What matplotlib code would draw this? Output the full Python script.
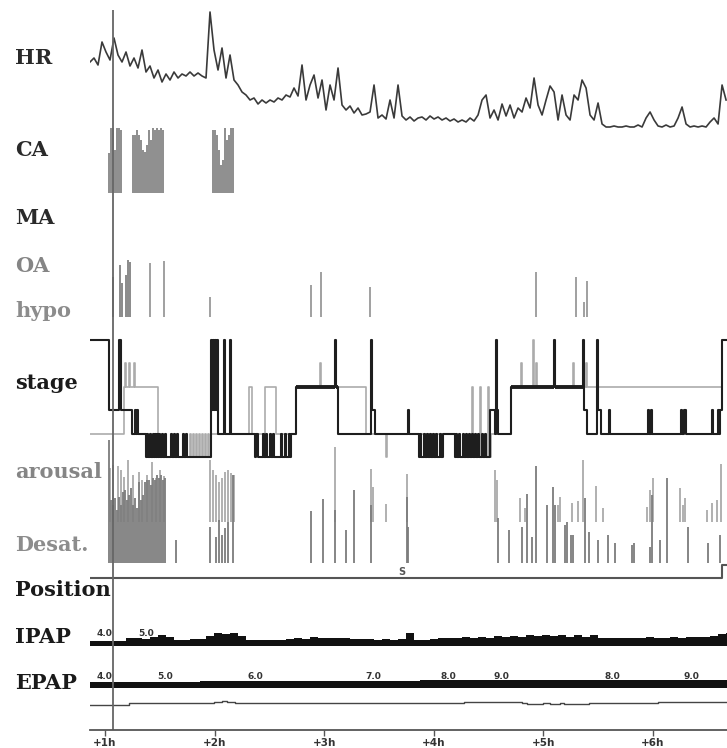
import numpy as np
import matplotlib
matplotlib.use("Agg")
from matplotlib import pyplot as plt

# ---------------- data ----------------
# heart rate (bpm), one sample every 0.0365 h from 0.863 h
hr_start, hr_step = 0.863, 0.0365
hr = [84, 86, 82.5, 94, 89, 85, 96, 87.5, 84, 89,
      82, 86, 81, 90, 79, 82, 76, 80, 74, 78,
      75, 79, 76, 78, 77, 79, 77, 78.5, 77, 76,
      109, 90, 80, 91, 76, 87.5, 75, 72.5, 69, 67.5,
      65, 66, 63, 65, 63.5, 65, 64, 66, 65, 67.5,
      66.5, 71, 67, 82.5, 65, 72.5, 77.5, 66, 75, 60,
      72.5, 65, 81, 62.5, 60, 62, 58.5, 61, 57.5, 58,
      59, 72.5, 56, 57.5, 55.5, 65, 56, 72.5, 57, 55,
      56.5, 54.5, 56, 56.5, 55, 57, 55.5, 56.5, 55, 56,
      54.5, 55.5, 54, 55, 54, 56, 54.5, 57.5, 65, 67.5,
      56, 60, 55, 63, 57, 62.5, 56, 61, 59, 66,
      61, 76, 62.5, 57.5, 65, 72, 69, 55, 67.5, 57.5,
      55, 67.5, 65, 75, 71, 57.5, 55, 63.5, 53, 51.5,
      51.5, 52, 51.5, 51.5, 52, 51.5, 51.5, 52.5, 51.5, 56,
      59, 55, 52, 51.5, 52.5, 51.5, 52, 56, 61.5, 53,
      51.5, 52, 51.5, 52, 51.5, 54, 56, 53, 72.5, 65]

# central apneas: time (h), duration (s)
ca_t = [1.037, 1.055, 1.073, 1.091, 1.110, 1.128, 1.146,
        1.255, 1.273, 1.292, 1.310, 1.328, 1.346, 1.365, 1.383, 1.401, 1.419,
        1.438, 1.456, 1.474, 1.493, 1.511, 1.529,
        1.985, 2.003, 2.022, 2.040, 2.058, 2.076, 2.095, 2.113, 2.131, 2.149, 2.168]
ca_d = [18.2, 29.5, 29.5, 19.5, 29.5, 29.5, 28.6,
        26.4, 26.4, 28.6, 26.4, 24.1, 19.5, 18.6, 21.8, 28.6, 24.1,
        29.5, 28.6, 29.5, 28.6, 29.5, 28.6,
        28.6, 28.6, 26.4, 19.5, 12.7, 15.0, 29.5, 24.1, 26.4, 29.5, 29.5]

# obstructive apneas and hypopneas: time (h), duration (s)
oa_t = [1.073, 1.137, 1.155, 1.192, 1.210, 1.228]
oa_d = [40, 52, 34, 42, 57, 55]
hypo_t = [1.410, 1.538, 1.958, 2.880, 2.971, 3.418, 4.932, 5.297, 5.370, 5.398]
hypo_d = [54, 56, 20, 32, 45, 30, 45, 40, 15, 36]

# sleep stages
stage_level = {"N3": 0, "N2": 1, "N1": 2, "R": 3, "MT": 4, "W": 5}
hyp_t = [0.863, 1.037, 1.128, 1.146, 1.246, 1.273, 1.283, 1.292, 1.301,
         1.374, 1.383, 1.392, 1.410, 1.419, 1.438, 1.447, 1.456, 1.465, 1.474,
         1.483, 1.493, 1.502, 1.520, 1.529, 1.547, 1.556, 1.602, 1.611, 1.629,
         1.638, 1.657, 1.666, 1.711, 1.720, 1.739, 1.748,
         1.967, 1.976, 1.985, 1.994, 2.003, 2.012, 2.022, 2.031, 2.085, 2.095,
         2.140, 2.149, 2.369, 2.378, 2.396, 2.442, 2.451, 2.469, 2.478, 2.505,
         2.514, 2.533, 2.542, 2.606, 2.615, 2.642, 2.651, 2.679, 2.688, 2.697,
         2.743, 3.099, 3.108, 3.126, 3.427, 3.436, 3.464, 3.765, 3.774,
         3.865, 3.874, 3.883, 3.911, 3.920, 3.938, 3.947, 3.965, 3.974, 3.993,
         4.002, 4.020, 4.029, 4.057, 4.066, 4.084,
         4.193, 4.203, 4.212, 4.230, 4.239, 4.266, 4.276, 4.294, 4.303, 4.321,
         4.330, 4.349, 4.358, 4.376, 4.385, 4.403, 4.412, 4.440, 4.449, 4.467,
         4.476, 4.513, 4.558, 4.567, 4.577, 4.586, 4.704, 5.097, 5.106,
         5.361, 5.370, 5.398, 5.489, 5.498, 5.526, 5.599, 5.608, 5.954, 5.964,
         5.982, 5.991, 6.256, 6.265, 6.283, 6.301, 6.539, 6.548, 6.593, 6.602,
         6.611, 6.630, 6.675]
hyp_s = ["W", "N1", "W", "N1", "N2", "N1", "N2", "N1", "N2",
         "N3", "N2", "N3", "N2", "N3", "N2", "N3", "N2", "N3", "N2",
         "N3", "N2", "N3", "N2", "N3", "N2", "N3", "N2", "N3", "N2",
         "N3", "N2", "N3", "N2", "N3", "N2", "N3",
         "W", "N1", "W", "N1", "W", "N1", "W", "N2", "W", "N2",
         "W", "N2", "N3", "N2", "N3", "N2", "N3", "N2", "N3", "N2",
         "N3", "N2", "N3", "N2", "N3", "N2", "N3", "N2", "N3", "N2",
         "R", "W", "R", "N2", "W", "N1", "N2", "N1", "N2",
         "N3", "N2", "N3", "N2", "N3", "N2", "N3", "N2", "N3", "N2",
         "N3", "N2", "N3", "N2", "N3", "N2",
         "N3", "N2", "N3", "N2", "N3", "N2", "N3", "N2", "N3", "N2",
         "N3", "N2", "N3", "N2", "N3", "N2", "N3", "N2", "N3", "N2",
         "N3", "N1", "N2", "W", "N1", "N2", "R", "W", "R",
         "W", "N1", "N2", "W", "N1", "N2", "N1", "N2", "N1", "N2",
         "N1", "N2", "N1", "N2", "N1", "N2", "N1", "N2", "N1", "N2",
         "N1", "W", "W"]

# second (grey) scoring of the stages
hyp2_t = [0.863, 1.174, 1.183, 1.192, 1.219, 1.228, 1.265, 1.273, 1.483, 1.502,
          1.775, 1.784, 1.803, 1.812, 1.830, 1.839, 1.858, 1.867, 1.885, 1.894,
          1.912, 1.922, 1.940, 1.949, 1.967, 2.314, 2.342, 2.460, 2.560, 2.743,
          2.962, 2.971, 3.381, 3.564, 3.573, 4.193, 4.349, 4.358, 4.421, 4.430,
          4.494, 4.503, 4.522, 4.704, 4.795, 4.805, 4.905, 4.914, 4.932, 4.941,
          5.270, 5.279, 5.389, 5.398, 6.630, 6.675]
hyp2_s = ["N2", "R", "MT", "R", "MT", "R", "MT", "R", "N2", "N3",
          "N2", "N3", "N2", "N3", "N2", "N3", "N2", "N3", "N2", "N3",
          "N2", "N3", "N2", "N3", "N2", "R", "N2", "R", "N2", "R",
          "MT", "R", "N2", "N3", "N2", "N3", "R", "N3", "R", "N3",
          "R", "N3", "N2", "R", "MT", "R", "W", "R", "MT", "R",
          "MT", "R", "MT", "R", "W", "W"]

# arousals: time (h), duration (s)
ar_t = [1.046, 1.073, 1.119, 1.146, 1.174, 1.210, 1.255, 1.310, 1.337, 1.383,
        1.429, 1.465, 1.502, 1.538, 1.958, 1.985, 2.012, 2.040, 2.067, 2.095,
        2.122, 2.149, 2.177, 3.099, 3.427, 3.446, 3.564, 3.756, 4.558, 4.577,
        4.786, 4.832, 5.133, 5.151, 5.261, 5.316, 5.361, 5.480, 5.544, 5.945,
        5.973, 6.000, 6.246, 6.274, 6.292, 6.493, 6.539, 6.584, 6.620]
ar_d = [27, 28.5, 28, 26, 22.5, 31, 23.5, 25, 21, 23.5,
        30, 22, 26, 23, 31, 26, 23.5, 20, 22, 25,
        26, 24.5, 23.5, 37.5, 26.5, 17.5, 9, 24, 26, 21,
        12, 7, 8.5, 12.5, 9.5, 10.5, 31, 18, 7, 7.5,
        16, 22, 17, 8.5, 12, 6, 9.5, 11, 29]

# desaturations: time (h), drop (%)
ds_t = [1.037, 1.055, 1.073, 1.091, 1.110, 1.128, 1.146, 1.164, 1.183, 1.201,
        1.219, 1.237, 1.255, 1.273, 1.292, 1.310, 1.328, 1.346, 1.365, 1.383,
        1.401, 1.419, 1.438, 1.456, 1.474, 1.493, 1.511, 1.529, 1.547, 1.648,
        1.958, 2.012, 2.040, 2.067, 2.095, 2.122, 2.168, 2.880, 2.989, 3.099,
        3.199, 3.272, 3.427, 3.756, 3.765, 4.586, 4.686, 4.805, 4.850, 4.896,
        4.932, 5.033, 5.088, 5.106, 5.197, 5.215, 5.252, 5.270, 5.380, 5.416,
        5.498, 5.590, 5.653, 5.808, 5.827, 5.973, 5.991, 6.064, 6.128, 6.319,
        6.502, 6.611]
ds_d = [24.6, 12.6, 11.6, 13, 10.6, 13.2, 11.6, 14.2, 14.6, 12.6,
        13.6, 15, 11.6, 13, 11, 16.2, 12.6, 13.6, 16.2, 16.6,
        16.6, 15.6, 17, 16.6, 17.6, 17, 17.6, 16.6, 17, 4.6,
        7.2, 5.2, 8.6, 5.6, 7, 8.2, 17.6, 10.4, 12.8, 10.6,
        6.6, 14.6, 11.6, 13.2, 7.2, 9, 6.6, 7.2, 13.8, 5.2,
        19.4, 11.6, 15.2, 11.6, 7.6, 8.2, 5.6, 5.6, 13, 6.2,
        4.6, 5.6, 4, 3.6, 4, 3.2, 13.6, 4.6, 17, 7.2,
        4, 5.6]

# body position
pos_level = {"S": 0, "L": 1}
pos_t = [0.863, 6.630, 6.675]
pos_s = ["S", "L", "L"]

# IPAP (cmH2O), one sample every 0.073 h from 0.863 h
ip_start, ip_step = 0.863, 0.073
ipap = [4.1, 4.1, 4.1, 4.1, 4.1, 4.8, 4.8, 4.6, 5.0, 5.4,
        5.0, 4.3, 4.3, 4.6, 4.6, 5.2, 5.9, 5.7, 5.9, 5.2,
        4.3, 4.3, 4.3, 4.3, 4.3, 4.6, 4.8, 4.6, 5.0, 4.8,
        4.8, 4.8, 4.8, 4.6, 4.6, 4.6, 4.3, 4.6, 4.3, 4.6,
        5.9, 4.3, 4.3, 4.6, 4.8, 4.8, 4.8, 5.0, 4.8, 5.0,
        4.8, 5.2, 5.0, 5.2, 5.0, 5.4, 5.2, 5.4, 5.2, 5.4,
        5.0, 5.4, 5.0, 5.4, 4.8, 4.8, 4.8, 4.8, 4.8, 4.8,
        5.0, 4.8, 4.8, 5.0, 4.8, 5.0, 5.0, 5.0, 5.2, 5.7, 5.9]
ipap_lab_t = [0.991, 1.374]
ipap_lab = ["4.0", "5.0"]

# EPAP (cmH2O)
epap_t = [0.863, 1.219, 1.283, 1.867, 2.962, 3.874, 4.276, 4.969, 5.151, 5.288, 6.046, 6.675]
epap = [4.0, 5.2, 4.4, 5.6, 6.8, 7.2, 8.8, 7.6, 8.4, 7.6, 8.8, 8.8]
epap_lab_t = [0.991, 1.548, 2.369, 3.446, 4.130, 4.613, 5.626, 6.347]
epap_lab = ["4.0", "5.0", "6.0", "7.0", "8.0", "9.0", "8.0", "9.0"]

# leak (L/min)
leak_t = [0.863, 1.219, 1.958, 1.994, 2.031, 2.067, 2.113, 2.149, 2.186, 2.907,
          4.276, 4.805, 4.850, 4.905, 4.950, 5.000, 5.060, 5.115, 5.151, 5.190,
          5.240, 5.300, 5.350, 5.420, 5.480, 5.526, 6.046, 6.675]
leak = [0, 4, 5, 7, 6, 8, 6, 7, 4, 5,
        6.6, 4, 2, 3, 2, 4, 2, 3, 5, 3,
        2, 3, 2, 4, 3.5, 4, 6.6, 6.6]

cursor_t = 1.073
hour_ticks = [1, 2, 3, 4, 5, 6]

labels = [("HR", 58, "#2a2a2a"), ("CA", 150, "#2a2a2a"), ("MA", 218, "#2a2a2a"),
          ("OA", 266, "#858585"), ("hypo", 311, "#8c8c8c"), ("stage", 383, "#1a1a1a"),
          ("arousal", 472, "#858585"), ("Desat.", 545, "#8c8c8c"),
          ("Position", 590, "#1a1a1a"), ("IPAP", 637, "#1a1a1a"), ("EPAP", 683, "#1a1a1a")]

# ---------------- layout ----------------
W, H = 727, 748
X0, X1 = 90, 727
XLIM = (0.863, 6.675)

fig = plt.figure(figsize=(W / 100, H / 100), dpi=100)


def track(top, bottom, ylim):
    ax = fig.add_axes([X0 / W, 1 - bottom / H, (X1 - X0) / W, (bottom - top) / H])
    ax.set_xlim(XLIM)
    ax.set_ylim(ylim)
    ax.axis("off")
    ax.patch.set_alpha(0)
    return ax


# HR
ax = track(10, 130, (50, 110))
hr_t = hr_start + np.arange(len(hr)) * hr_step
ax.plot(hr_t, hr, color="#3a3a3a", lw=1.2)

# CA
ax = track(127, 193, (0, 30))
ax.vlines(ca_t, 0, ca_d, color="#7a7a7a", lw=1.2)

# OA / hypo
ax = track(255, 317, (0, 62))
ax.vlines(oa_t, 0, oa_d, color="#8a8a8a", lw=1.4)
ax.vlines(hypo_t, 0, hypo_d, color="#a0a0a0", lw=1.4)

# stage
ax = track(330, 465, (-0.34, 5.43))
lv2 = [stage_level[s] for s in hyp2_s]
ax.step(hyp2_t, lv2, where="post", color="#ababab", lw=1.2)
lv = [stage_level[s] for s in hyp_s]
ax.step(hyp_t, lv, where="post", color="#1e1e1e", lw=1.5)
for i in range(len(hyp_s) - 1):
    if hyp_s[i] == "R":
        ax.hlines(stage_level["R"], hyp_t[i], hyp_t[i + 1], color="#1e1e1e", lw=2.8)

# arousal / desaturation
ax = track(430, 522, (0, 46))
ax.vlines(ar_t, 0, ar_d, color="#b0b0b0", lw=1.4)
ax = track(430, 563, (0, 26.6))
ax.vlines(ds_t, 0, ds_d, color="#7c7c7c", lw=1.3)

# position
ax = track(560, 585, (-0.54, 1.385))
ax.step(pos_t, [pos_level[s] for s in pos_s], where="post", color="#555555", lw=1.5)
ax.text(3.710, 0.45, "S", fontsize=7, fontweight="bold", color="#555555",
        ha="center", va="center")

# IPAP
ax = track(620, 650, (2.11, 8.78))
ip_t = ip_start + np.arange(len(ipap)) * ip_step
ax.fill_between(ip_t, 3.0, ipap, step="mid", color="#111111", lw=0)
for t, s in zip(ipap_lab_t, ipap_lab):
    ax.text(t, 5.8, s, fontsize=6.5, fontweight="bold", color="#333333",
            ha="center", va="center")

# EPAP
ax = track(665, 692, (-13.5, 34.7))
ax.fill_between(epap_t, -6.4, epap, step="post", color="#111111", lw=0)
for t, s in zip(epap_lab_t, epap_lab):
    ax.text(t, 15.0, s, fontsize=6.5, fontweight="bold", color="#333333",
            ha="center", va="center")

# leak
ax = track(695, 712, (-14, 20))
ax.step(leak_t, leak, where="post", color="#444444", lw=1.0)

# time axis + cursor (on top)
ax = fig.add_axes([X0 / W, 1 - 730 / H, (X1 - X0) / W, 720 / H])
ax.set_xlim(XLIM)
ax.set_ylim(0, 1)
ax.patch.set_alpha(0)
for side in ["top", "left", "right"]:
    ax.spines[side].set_visible(False)
ax.spines["bottom"].set_color("#555555")
ax.spines["bottom"].set_linewidth(1.3)
ax.set_yticks([])
ax.set_xticks(hour_ticks)
ax.set_xticklabels(["+%dh" % h for h in hour_ticks], fontsize=7.5, fontweight="bold",
                   color="#333333")
ax.tick_params(axis="x", length=4, width=1, color="#555555", pad=2)
ax.axvline(cursor_t, color="#666666", lw=1.3)

for txt, y, c in labels:
    fig.text(15 / W, 1 - y / H, txt, fontsize=15, fontweight="bold", family="DejaVu Serif",
             color=c, ha="left", va="center")

fig.savefig("out.png", dpi=100)
